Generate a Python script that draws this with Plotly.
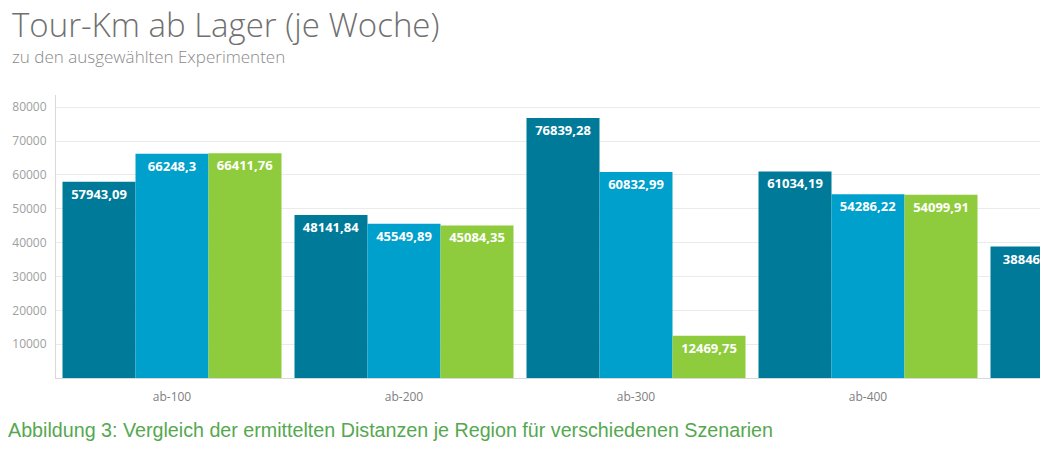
import plotly.graph_objects as go

categories = ["ab-100", "ab-200", "ab-300", "ab-400", "ab-500"]
series_a = [57943.09, 48141.84, 76839.28, 61034.19, 38846.50]
series_b = [66248.3, 45549.89, 60832.99, 54286.22, None]
series_c = [66411.76, 45084.35, 12469.75, 54099.91, None]
y_ticks = [10000, 20000, 30000, 40000, 50000, 60000, 70000, 80000]

colors = ["#007A99", "#00A0CC", "#8FCC3D"]

def fmt(v):
    if v is None:
        return ""
    s = ("%.2f" % v).rstrip("0").rstrip(".")
    return s.replace(".", ",")

fig = go.Figure()
for vals, col in zip([series_a, series_b, series_c], colors):
    fig.add_trace(go.Bar(
        x=categories, y=vals, marker=dict(color=col, line=dict(width=0)),
        text=[fmt(v) for v in vals], textposition="inside",
        insidetextanchor="end", textangle=0, constraintext="none",
        textfont=dict(family="Open Sans", size=13, color="white", weight="bold"),
        cliponaxis=True, hoverinfo="skip", showlegend=False,
    ))

L, R, T, B = 56, 3, 95, 83
W, H = 1043, 461
pw, ph = W - L - R, H - T - B

def px(x):
    return (x - L) / pw

def py(y):
    return (H - B - y) / ph

fig.update_layout(
    width=W, height=H, margin=dict(l=L, r=R, t=T, b=B),
    paper_bgcolor="white", plot_bgcolor="white",
    barmode="group", bargap=13 / 232, bargroupgap=0,
    xaxis=dict(type="category", range=[-0.5, -0.5 + pw / 232],
               showline=True, linecolor="#d9d9d9", linewidth=1,
               showgrid=False, ticks="", ticklabelstandoff=8,
               tickfont=dict(family="Open Sans", size=12, color="#808080")),
    yaxis=dict(range=[0, 83600], tickvals=y_ticks,
               ticktext=[str(t) for t in y_ticks],
               showline=True, linecolor="#d9d9d9", linewidth=1,
               showgrid=True, gridcolor="#ebebeb", gridwidth=1,
               zeroline=False, ticks="", ticklabelstandoff=6,
               tickfont=dict(family="Open Sans", size=12, color="#a0a0a0")),
    annotations=[
        dict(text="Tour-Km ab Lager (je Woche)", xref="paper", yref="paper",
             x=px(10), y=py(24), xanchor="left", yanchor="middle", showarrow=False,
             font=dict(family="Open Sans", size=33, color="#707070", weight=300)),
        dict(text="zu den ausgewählten Experimenten", xref="paper", yref="paper",
             x=px(10), y=py(57), xanchor="left", yanchor="middle", showarrow=False,
             font=dict(family="Open Sans", size=17, color="#8a8a8a", weight=300)),
        dict(text="Abbildung 3: Vergleich der ermittelten Distanzen je Region für verschiedenen Szenarien",
             xref="paper", yref="paper",
             x=px(6), y=py(430), xanchor="left", yanchor="middle", showarrow=False,
             font=dict(family="Liberation Sans", size=19.7, color="#55A850")),
    ],
)

fig.write_html("out.html")
